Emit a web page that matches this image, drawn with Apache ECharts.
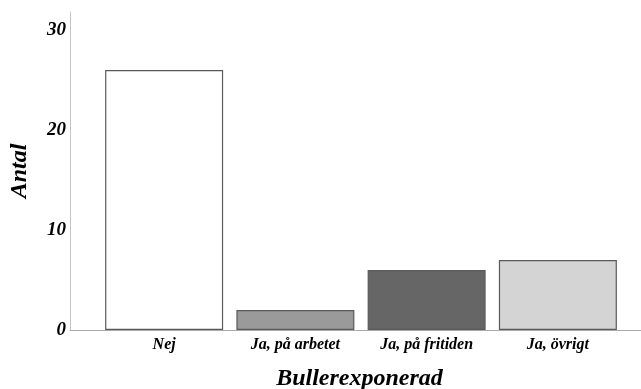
<!DOCTYPE html>
<html><head><meta charset="utf-8">
<script src="https://cdn.jsdelivr.net/npm/echarts@6/dist/echarts.min.js"></script>
<style>html,body{margin:0;padding:0;background:#fff}#c{width:641px;height:389px}</style>
</head><body><div id="c"></div>
<script>
const categories = ['Nej', 'Ja, på arbetet', 'Ja, på fritiden', 'Ja, övrigt'];
const counts = [26, 2, 6, 7];
const barColors = ['#ffffff', '#9a9a9a', '#666666', '#d4d4d4'];
const yTicks = [0, 10, 20, 30];
const xTitle = 'Bullerexponerad';
const yTitle = 'Antal';

const FONT = '"Liberation Serif", "Times New Roman", serif';
const YMAX = 31.8;
const chart = echarts.init(document.getElementById('c'), null, {renderer: 'canvas'});
chart.setOption({
  animation: false,
  backgroundColor: '#fff',
  grid: [
    {left: 70, right: 0, top: 12, bottom: 59, containLabel: false, outerBoundsMode: 'none'},
    {left: 98.5, width: 525, top: 12, bottom: 59, containLabel: false, outerBoundsMode: 'none'}
  ],
  xAxis: [
    {gridIndex: 0, type: 'value', min: 0, max: 1,
     axisLine: {show: true, lineStyle: {color: '#aaaaaa', width: 1}},
     axisTick: {show: false}, axisLabel: {show: false}, splitLine: {show: false},
     name: xTitle, nameLocation: 'middle', nameGap: 37,
     nameTextStyle: {fontFamily: FONT, fontWeight: 'bold', fontStyle: 'italic', fontSize: 24, color: '#000', padding: [0, 0, 0, 8]}},
    {gridIndex: 1, type: 'category', data: categories,
     axisLine: {show: false}, axisTick: {show: false},
     axisLabel: {margin: 7, fontFamily: FONT, fontWeight: 'bold', fontStyle: 'italic', fontSize: 16, color: '#000'}}
  ],
  yAxis: [
    {gridIndex: 0, type: 'value', min: 0, max: YMAX, interval: 10,
     axisLine: {show: true, lineStyle: {color: '#c4c4c4', width: 1}},
     axisTick: {show: false}, splitLine: {show: false},
     axisLabel: {margin: 4, fontFamily: FONT, fontWeight: 'bold', fontStyle: 'italic', fontSize: 19, color: '#000',
       formatter: v => yTicks.includes(v) ? String(v) : ''},
     name: yTitle, nameLocation: 'middle', nameGap: 38, nameRotate: 90,
     nameTextStyle: {fontFamily: FONT, fontWeight: 'bold', fontStyle: 'italic', fontSize: 24, color: '#000'}},
    {gridIndex: 1, type: 'value', min: 0, max: YMAX, show: false}
  ],
  series: [{
    type: 'bar', xAxisIndex: 1, yAxisIndex: 1, barWidth: 118,
    data: counts.map((v, i) => ({value: v, itemStyle: {color: barColors[i], borderColor: '#5a5a5a', borderWidth: 1.2}}))
  }]
});
</script></body></html>
